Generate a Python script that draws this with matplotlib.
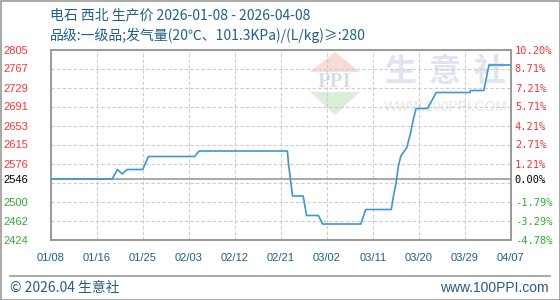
import matplotlib
matplotlib.use("Agg")
import matplotlib.pyplot as plt
import numpy as np
from matplotlib.patches import Polygon, Rectangle

plt.rcParams['font.family'] = ['Liberation Sans', 'Noto Sans CJK SC', 'DejaVu Sans']

# data: day offset from 2026-01-08, price (yuan/t)
days = [0, 11.9, 12.9, 13.85, 14.8, 17.8, 18.9, 27.85, 28.7, 45.8, 46.0, 46.8,
        48.85, 49.5, 51.8, 52.6, 60.0, 60.95, 65.9, 66.3, 66.8, 67.25, 67.75,
        68.9, 69.6, 70.2, 70.7, 72.9, 74.6, 81.1, 81.2, 83.8, 84.8, 89]
prices = [2546, 2546, 2565, 2556, 2565, 2565, 2591, 2591, 2602, 2602, 2577, 2512,
          2512, 2473, 2473, 2456, 2456, 2485, 2485, 2511, 2537, 2571, 2592,
          2609, 2637, 2667, 2687, 2687, 2719, 2719, 2723, 2723, 2774, 2774]

base_price = 2546
x_labels = ['01/08', '01/16', '01/25', '02/03', '02/12', '02/21', '03/02', '03/11', '03/20', '03/29', '04/07']
left_vals = [2424, 2462, 2500, 2546, 2576, 2615, 2653, 2691, 2729, 2767, 2805]
left_labels = ['2424', '2462', '2500', '2546', '2576', '2615', '2653', '2691', '2729', '2767', '2805']
right_labels = ['-4.78%', '-3.29%', '-1.79%', '0.00%', '1.21%', '2.71%', '4.21%', '5.71%', '7.21%', '8.71%', '10.20%']

title1 = "电石 西北 生产价 2026-01-08 - 2026-04-08"
title2 = "品级:一级品;发气量(20℃、101.3KPa)/(L/kg)≥:280"

ymin, ymax = 2424, 2805
xmax = 89
title_color = '#1f5f8b'
red, green = '#ff3333', '#33aa33'

fig = plt.figure(figsize=(5.6, 3.0), dpi=100)

# background layer in pixel coordinates
bg = fig.add_axes([0, 0, 1, 1], zorder=0)
bg.set_xlim(0, 560)
bg.set_ylim(300, 0)
bg.axis('off')
bg.add_patch(Rectangle((0.5, 0.5), 559, 299, fill=False, ec='#999999', lw=1.2))
bg.plot([10, 550], [276, 276], color='#999999', lw=1.2)
bg.text(50, 15, title1, color=title_color, fontsize=10, va='center',
        family=['Noto Sans CJK SC', 'DejaVu Sans'])
bg.text(50, 35, title2, color=title_color, fontsize=10, va='center',
        family=['Noto Sans CJK SC', 'DejaVu Sans'])
bg.text(10, 288, "© 2026.04 生意社", color='#2a5b84', fontsize=10, va='center',
        family=['Noto Sans CJK SC', 'DejaVu Sans'])
bg.text(549, 288, "www.100PPI.com", color='#2a5b84', fontsize=10, va='center', ha='right')

# watermark
bg.add_patch(Polygon([[335, 52], [310, 72], [360, 72]], closed=True, fc='#f8dcd8', ec='none'))
bg.add_patch(Polygon([[310, 92], [360, 92], [335, 115]], closed=True, fc='#dbeed8', ec='none'))
bg.text(335, 82, "PPI", color='#d8dee9', fontsize=15, fontweight='bold', ha='center', va='center',
        family='Liberation Serif')
for cx, ch in zip([400, 445, 490], "生意社"):
    bg.text(cx, 72, ch, color='#dfe4ee', fontsize=23, fontweight='bold', ha='center', va='center',
            family=['Noto Sans CJK SC'])
bg.text(446, 107, "WWW.100PPI.COM", color='#e6e6e6', fontsize=10, ha='center', va='center')

ax = fig.add_axes([50.7 / 560, 60 / 300, 460 / 560, 190.5 / 300], zorder=1)
ax.set_facecolor('none')
ax.set_xlim(0, xmax)
ax.set_ylim(ymin, ymax)

for g in np.linspace(ymin, ymax, 11)[1:-1]:
    ax.axhline(g, color='#cccccc', lw=0.8, ls=(0, (3, 2)), zorder=1)
xt = np.linspace(0, xmax, len(x_labels))
for g in xt[1:-1]:
    ax.axvline(g, color='#cccccc', lw=0.8, ls=(0, (3, 2)), zorder=1)
ax.axhline(base_price, color='#999999', lw=1.2, zorder=2)

ax.plot(days, prices, color='#3a98d4', lw=1.2, zorder=3)

for s in ax.spines.values():
    s.set_color('#999999')
    s.set_linewidth(1.4)

ax.set_xticks(xt)
ax.set_xticklabels(x_labels, color=title_color, fontsize=8)
ax.tick_params(axis='x', length=0, pad=9.5)

ax.set_yticks(left_vals)
ax.set_yticklabels(left_labels, fontsize=8)
ax.tick_params(axis='y', length=0, pad=16)

ax2 = ax.twinx()
ax2.set_ylim(ymin, ymax)
ax2.set_yticks(left_vals)
ax2.set_yticklabels(right_labels, fontsize=7.5, family='DejaVu Sans Mono')
ax2.tick_params(axis='y', length=0, pad=3)
for s in ax2.spines.values():
    s.set_visible(False)

for lab_l, lab_r, v in zip(ax.get_yticklabels(), ax2.get_yticklabels(), left_vals):
    c = 'black' if v == base_price else (red if v > base_price else green)
    lab_l.set_color(c)
    lab_r.set_color(c)

fig.savefig("out.png", dpi=100)
